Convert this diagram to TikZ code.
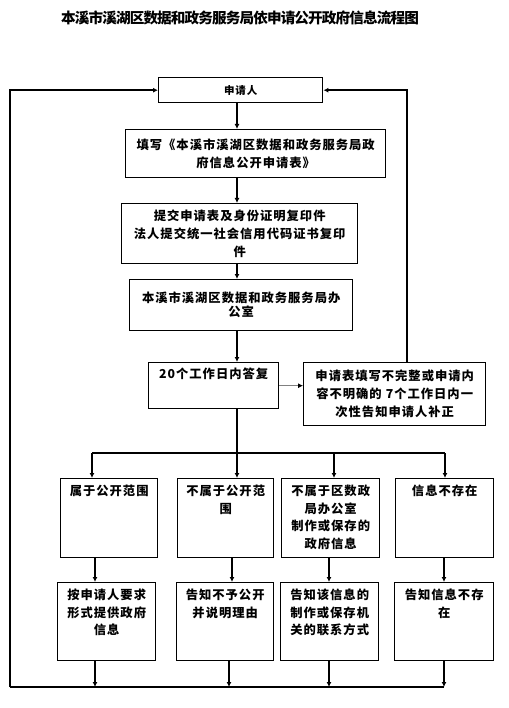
\documentclass[tikz,border=0pt]{standalone}
\usepackage{fontspec}
\setmainfont{Noto Sans CJK SC}
\newfontfamily\spaziato{Noto Sans CJK SC}[LetterSpace=8]
\newfontfamily\stretto{Noto Sans CJK SC}[LetterSpace=-6]
\usetikzlibrary{arrows.meta}
\tikzset{
  casella/.style={draw, line width=1.4pt, anchor=north west, align=center,
    inner xsep=2pt, inner ysep=2pt, font=\spaziato\bfseries\fontsize{12.3}{18}\selectfont},
  riga/.style={casella, inner ysep=0pt, text height=17pt, text depth=#1,
    font=\spaziato\bfseries\fontsize{12.3}{17.5}\selectfont},
  freccia/.style={line width=1.4pt, -{Latex[length=5pt,width=5pt]}},
  linea/.style={line width=1.4pt},
}
\begin{document}
\begin{tikzpicture}[x=1pt,y=-1pt]
  \useasboundingbox (0,0) rectangle (508,708);
  \node[font=\stretto\bfseries\fontsize{14.6}{16}\selectfont] (titolo) at (240,18) {本溪市溪湖区数据和政务服务局依申请公开政府信息流程图};

  % Caselle centrali
  \node[casella, minimum width=164pt, minimum height=25pt,
    font=\spaziato\bfseries\fontsize{10.5}{12}\selectfont] (app) at (158,77) {申请人};
  \node[casella, text width=256pt, minimum height=48pt] (modulo) at (125,129) {填写《本溪市溪湖区数据和政务服务局政\\府信息公开申请表》};
  \node[casella, text width=232pt, minimum height=60pt] (consegna) at (121,203) {提交申请表及身份证明复印件\\法人提交统一社会信用代码证书复印\\件};
  \node[casella, text width=219pt, minimum height=51pt,
    font=\spaziato\bfseries\fontsize{12.3}{14}\selectfont] (ufficio) at (129,279) {本溪市溪湖区数据和政务服务局办\\公室};
  \node[casella, inner ysep=0pt, text height=15.5pt, text depth=30.5pt, text width=126pt] (risposta) at (148,362) {20个工作日内答复};
  \node[casella, text width=178pt, minimum height=63pt] (incompleto) at (303,362) {申请表填写不完整或申请内\\容不明确的 7个工作日内一\\次性告知申请人补正};

  % Casi
  \node[riga=62pt, text width=93pt] (pubblico) at (60,478) {属于公开范围};
  \node[riga=62pt, text width=92pt] (nonpubblico) at (177,478) {不属于公开范\\围};
  \node[riga=62pt, text width=94pt] (altroente) at (281,478) {不属于区数政\\局办公室\\制作或保存的\\政府信息};
  \node[riga=62pt, text width=94pt] (inesistente) at (395,478) {信息不存在};

  % Risposte
  \node[riga=61pt, text width=94pt] (fornire) at (57,582) {按申请人要求\\形式提供政府\\信息};
  \node[riga=61pt, text width=93pt] (rifiuto) at (176,582) {告知不予公开\\并说明理由};
  \node[riga=61pt, text width=94pt] (contatto) at (280,582) {告知该信息的\\制作或保存机\\关的联系方式};
  \node[riga=61pt, text width=95pt] (avviso) at (394,582) {告知信息不存\\在};

  \coordinate (asse) at (237,0);
  \coordinate (destra) at (407,0);
  \draw[freccia] (app.south -| asse) -- (modulo.north -| asse);
  \draw[freccia] (modulo.south -| asse) -- (consegna.north -| asse);
  \draw[freccia] (consegna.south -| asse) -- (ufficio.north -| asse);
  \draw[freccia] (ufficio.south -| asse) -- (risposta.north -| asse);
  \draw[line width=0.8pt, gray, -{Latex[length=5pt,width=5pt,black]}] (risposta.east) -- (risposta.east -| incompleto.west);
  \draw[freccia] (incompleto.north -| destra) |- (app.east); % ritorno a destra

  % Diramazione
  \coordinate (ramo) at (237,453);
  \coordinate (k1) at (92,453);
  \coordinate (k3) at (334,453);
  \coordinate (k4) at (445,453);
  \draw[linea] (risposta.south -| asse) -- (ramo);
  \draw[linea] (k1) -- (k4);
  \draw[freccia] (k1) -- (k1 |- pubblico.north);
  \draw[freccia] (ramo) -- (ramo |- nonpubblico.north);
  \draw[freccia] (k3) -- (k3 |- altroente.north);
  \draw[freccia] (k4) -- (k4 |- inesistente.north);

  \coordinate (m1) at (95,0);
  \coordinate (m2) at (232,0);
  \coordinate (m3) at (329,0);
  \coordinate (m4) at (444,0);
  \draw[freccia] (m1 |- pubblico.south) -- (m1 |- fornire.north);
  \draw[freccia] (m2 |- nonpubblico.south) -- (m2 |- rifiuto.north);
  \draw[freccia] (m3 |- altroente.south) -- (m3 |- contatto.north);
  \draw[freccia] (m4 |- inesistente.south) -- (m4 |- avviso.north);

  % Ritorno in basso
  \coordinate (fondo) at (10,687);
  \coordinate (f1) at (95,687);
  \coordinate (f2) at (229,687);
  \coordinate (f3) at (329,687);
  \coordinate (f4) at (444,687);
  \draw[freccia] (f1 |- fornire.south) -- (f1);
  \draw[freccia] (f2 |- rifiuto.south) -- (f2);
  \draw[freccia] (f3 |- contatto.south) -- (f3);
  \draw[freccia] (f4 |- avviso.south) -- (f4);
  \draw[linea] (f4) -- (fondo);
  \draw[freccia] (fondo) |- (app.west);
\end{tikzpicture}
\end{document}
